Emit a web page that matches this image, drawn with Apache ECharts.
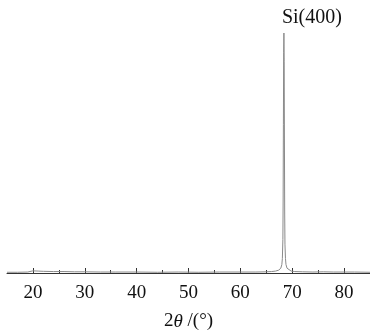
<!DOCTYPE html>
<html>
<head>
<meta charset="utf-8">
<script src="https://cdn.jsdelivr.net/npm/echarts@6/dist/echarts.min.js"></script>
<style>
html, body { margin: 0; padding: 0; background: #fff; }
#chart { width: 370px; height: 336px; }
</style>
</head>
<body>
<div id="chart"></div>
<script>
// 2theta (deg) and intensity (a.u., peak = 100)
let twoTheta = [15, 17, 19, 20, 21, 22, 24, 26, 28, 30, 33, 36, 40, 44, 48, 52, 56, 60, 63, 65, 66, 66.8, 67.4,
    67.8, 68.0, 68.1, 68.2, 68.25, 68.3, 68.35, 68.4, 68.45, 68.5, 68.55, 68.6, 68.7, 68.8, 69.0, 69.3, 69.8,
    70.5, 72, 74, 76, 78, 80, 82, 85];
let intensity = [0.3, 0.3, 0.4, 0.9, 0.8, 0.7, 0.6, 0.6, 0.5, 0.5, 0.4, 0.4, 0.4, 0.3, 0.4, 0.3, 0.4, 0.4, 0.4, 0.5, 0.6, 0.8, 1.2,
    2.0, 3.5, 6, 14, 30, 62, 92, 100, 88, 55, 25, 12, 6, 3.5, 2.0, 1.2, 0.8,
    0.6, 0.5, 0.4, 0.5, 0.4, 0.4, 0.4, 0.3];
let majorTicks = [20, 30, 40, 50, 60, 70, 80];
let minorTicks = [25, 35, 45, 55, 65, 75];
let peakLabel = 'Si(400)';
let peakX = 68.4;
let peakY = 100;

let chart = echarts.init(document.getElementById('chart'));
let serif = '"Liberation Serif", "DejaVu Serif", serif';

let lineData = twoTheta.map((x, i) => [x, intensity[i]]);

let option = {
    animation: false,
    grid: { left: 7, right: 0, top: 33, bottom: 54 },
    xAxis: [{
        type: 'value', min: 15, max: 85,
        name: '2{i|θ} /(°)',
        nameLocation: 'middle', nameGap: 39,
        nameTextStyle: {
            fontFamily: serif, fontSize: 19, color: '#111',
            rich: { i: { fontFamily: serif, fontStyle: 'italic', fontSize: 19, color: '#111' } }
        },
        axisLine: { lineStyle: { color: '#333', width: 1 } },
        axisTick: { inside: true, length: 5, customValues: majorTicks, lineStyle: { color: '#333' } },
        axisLabel: { customValues: majorTicks, margin: 11, fontFamily: serif, fontSize: 19, color: '#111' },
        splitLine: { show: false }
    }, {
        type: 'value', min: 15, max: 85, position: 'bottom',
        axisLine: { show: false },
        axisTick: { inside: true, length: 3, customValues: minorTicks, lineStyle: { color: '#333' } },
        axisLabel: { show: false },
        splitLine: { show: false }
    }],
    yAxis: {
        type: 'value', min: 0, max: 100,
        show: false
    },
    series: [{
        type: 'line',
        data: lineData,
        showSymbol: false,
        symbol: 'none',
        lineStyle: { color: '#8a8a8a', width: 1 },
        markPoint: {
            symbol: 'circle',
            symbolSize: 0,
            data: [{
                coord: [peakX, peakY],
                label: {
                    show: true, position: 'top', distance: 5, offset: [28, 0],
                    formatter: peakLabel, fontFamily: serif, fontSize: 20, color: '#111'
                }
            }]
        },
        z: 1
    }]
};
chart.setOption(option);
</script>
</body>
</html>
